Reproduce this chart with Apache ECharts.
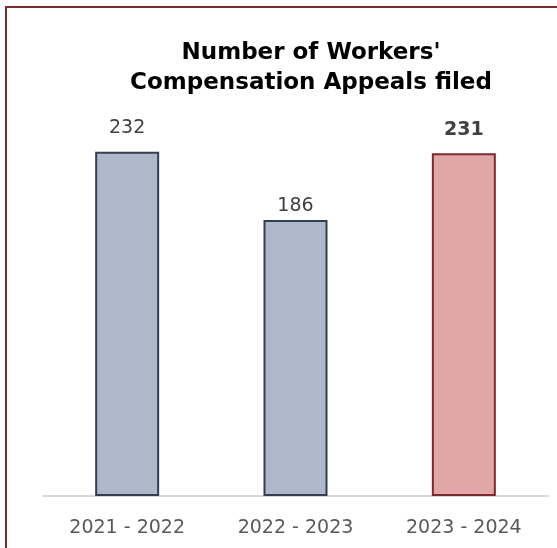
<!DOCTYPE html>
<html>
<head>
<meta charset="utf-8">
<script src="https://cdn.jsdelivr.net/npm/echarts@6/dist/echarts.min.js"></script>
<style>
html,body{margin:0;padding:0;background:#fff;}
#chart{width:557px;height:548px;}
</style>
</head>
<body>
<div id="chart"></div>
<script>
const categories = ['2021 - 2022', '2022 - 2023', '2023 - 2024'];
const appeals = [232, 186, 231];
const titleLines = ["Number of Workers'", 'Compensation Appeals filed'];

const chart = echarts.init(document.getElementById('chart'), null, {renderer: 'canvas'});
const baseStyle = {color: '#ADB9CA', borderColor: '#333F50', borderWidth: 2};
const hiStyle = {color: '#E1A7A8', borderColor: '#7B2A2E', borderWidth: 2};
const labelDistance = [14, 4, 14];

chart.setOption({
  animation: false,
  graphic: [{
    type: 'rect',
    shape: {x: 6, y: 7, width: 700, height: 700},
    style: {fill: 'none', stroke: '#7B2C2C', lineWidth: 2},
    silent: true
  }],
  title: {
    text: titleLines.join('\n'),
    left: 306,
    textAlign: 'center',
    top: 33,
    textStyle: {
      fontFamily: 'DejaVu Sans',
      fontWeight: 'bold',
      fontSize: 23,
      lineHeight: 30,
      color: '#000000'
    }
  },
  grid: {left: 43, right: 9, top: 125, bottom: 52},
  xAxis: {
    type: 'category',
    data: categories,
    axisTick: {show: false},
    axisLine: {lineStyle: {color: '#D9D9D9', width: 2}},
    axisLabel: {
      color: '#595959',
      fontFamily: 'DejaVu Sans',
      fontSize: 19,
      margin: 23
    }
  },
  yAxis: {
    type: 'value',
    min: 0,
    max: 250,
    show: false,
    splitLine: {show: false}
  },
  series: [{
    type: 'bar',
    barWidth: 64,
    data: appeals.map((v, i) => ({
      value: v,
      itemStyle: i === appeals.length - 1 ? hiStyle : baseStyle,
      label: {
        fontWeight: i === appeals.length - 1 ? 'bold' : 'normal',
        distance: labelDistance[i]
      }
    })),
    label: {
      show: true,
      position: 'top',
      color: '#404040',
      fontFamily: 'DejaVu Sans',
      fontSize: 19
    }
  }]
});
</script>
</body>
</html>
